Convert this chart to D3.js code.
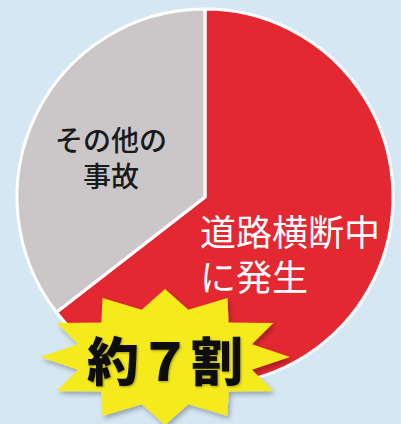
<!DOCTYPE html>
<html><head><meta charset="utf-8">
<script src="https://cdn.jsdelivr.net/npm/d3@7"></script>
<style>html,body{margin:0;padding:0;background:#d6e7f4;}svg{display:block;}</style>
</head><body>
<script>
const categories = ["道路横断中に発生", "その他の事故"];
const values = [64.5, 35.5];
const labelLines = [["道路横断中", "に発生"], ["その他の", "事故"]];
const badgeText = "約７割";

const W = 401, H = 424;
const svg = d3.select("body").append("svg").attr("width", W).attr("height", H);
svg.append("rect").attr("width", W).attr("height", H).attr("fill", "#d6e7f4");

const defs = svg.append("defs");
const f = defs.append("filter").attr("id","sh").attr("x","-20%").attr("y","-20%").attr("width","140%").attr("height","140%");
f.append("feDropShadow").attr("dx",2).attr("dy",3).attr("stdDeviation",2.5).attr("flood-color","#000").attr("flood-opacity",0.3);
const f2 = defs.append("filter").attr("id","tsh").attr("x","-20%").attr("y","-20%").attr("width","140%").attr("height","140%");
f2.append("feDropShadow").attr("dx",1).attr("dy",1).attr("stdDeviation",1.2).attr("flood-color","#000").attr("flood-opacity",0.35);

const cx = 205, cy = 197, R = 188;
const color = d3.scaleOrdinal().domain(categories).range(["#e42832", "#cbc7c8"]);
const pie = d3.pie().sort(null).value(d => d.v);
const data = categories.map((c, i) => ({c, v: values[i], lines: labelLines[i]}));
const arcs = pie(data);
const arc = d3.arc().innerRadius(0).outerRadius(R);

const g = svg.append("g").attr("transform", `translate(${cx},${cy})`);
g.selectAll("path").data(arcs).join("path")
  .attr("d", arc).attr("fill", d => color(d.data.c))
  .attr("stroke", "#fff").attr("stroke-width", 3).attr("stroke-linejoin","round");

// labels
const labelPos = [{x: 290, y: 230, size: 36, fill: "#fff", dy: 45}, {x: 111, y: 139, size: 28, fill: "#1a1a1a", dy: 36}];
arcs.forEach((a, i) => {
  const p = labelPos[i];
  const t = svg.append("text").attr("font-family", "'Noto Sans CJK JP', sans-serif")
    .attr("font-size", p.size).attr("fill", p.fill).attr("font-weight", i === 0 ? 400 : 500);
  a.data.lines.forEach((ln, j) => {
    t.append("tspan").attr("x", i === 0 ? 200 : p.x).attr("y", p.y + j * p.dy)
      .attr("dominant-baseline", "central")
      .attr("text-anchor", i === 0 ? "start" : "middle").text(ln);
  });
});

// starburst badge
const bx = 165, by = 357, rx = 125, ry = 68, inner = 0.72, nPts = 12;
const pts = [];
for (let k = 0; k < nPts * 2; k++) {
  const ang = -Math.PI / 2 + k * Math.PI / nPts;
  const r = k % 2 === 0 ? 1 : inner;
  pts.push([bx + Math.cos(ang) * rx * r, by + Math.sin(ang) * ry * r]);
}
svg.append("path").attr("d", d3.line().curve(d3.curveLinearClosed)(pts))
  .attr("fill", "#f4ea1f").attr("filter", "url(#sh)");
svg.append("text").attr("x", bx).attr("y", by + 1).attr("text-anchor", "middle")
  .attr("dominant-baseline", "central")
  .attr("font-family", "'Noto Sans CJK JP', sans-serif").attr("font-weight", 900)
  .attr("font-size", 52).attr("fill", "#111").attr("filter", "url(#tsh)").text(badgeText);
</script>
</body></html>
